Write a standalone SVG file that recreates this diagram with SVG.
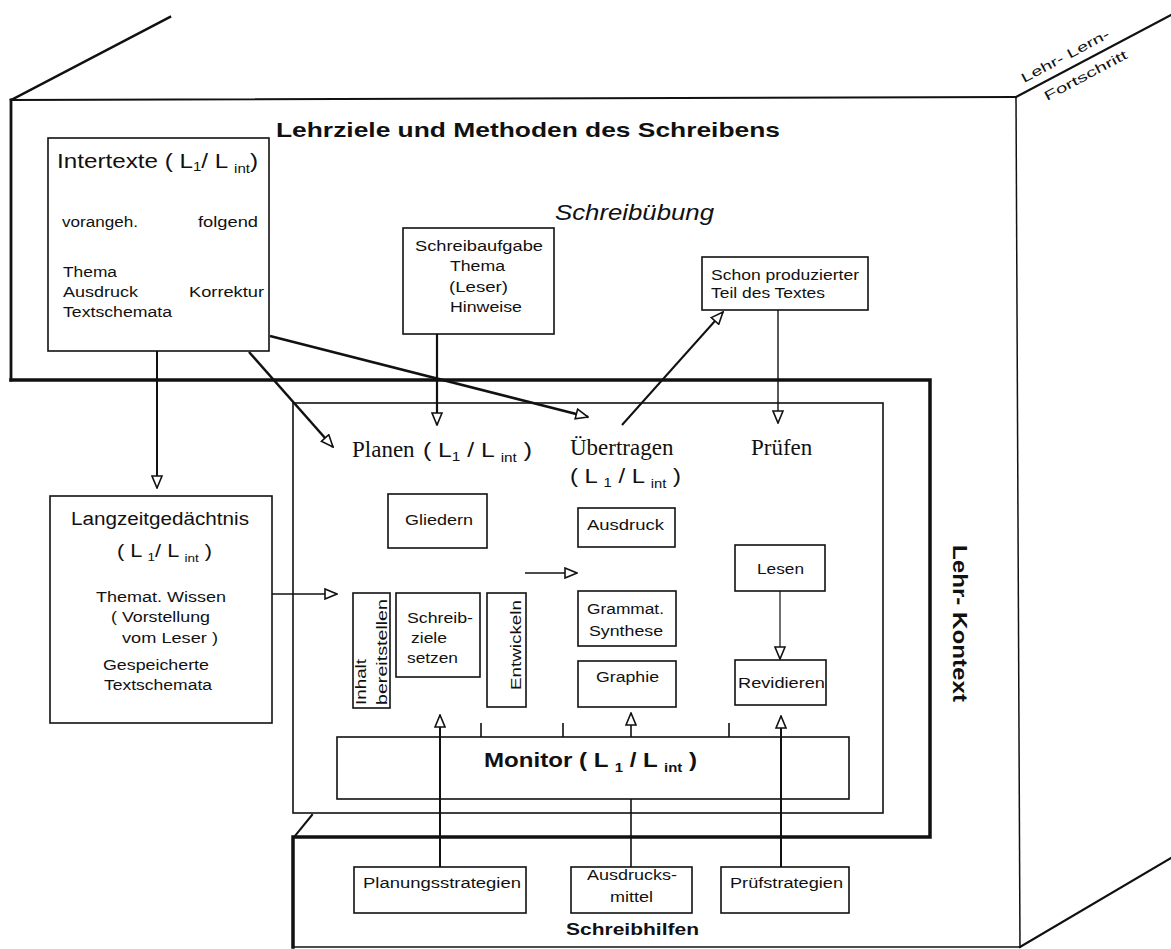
<svg xmlns="http://www.w3.org/2000/svg" width="1171" height="949" viewBox="0 0 1171 949">
<style>
text{font-family:"Liberation Sans",Arial,sans-serif;fill:#111}
.b{font-weight:bold}
.sf{font-family:"Liberation Serif","Times New Roman",serif}
.t14{font-size:14px}
.box{fill:none;stroke:#111;stroke-width:1.6}
.fr{fill:none;stroke:#111;stroke-linecap:square}
.c{fill:none;stroke:#111}
.sub{font-size:0.62em}
</style>
<defs>
<marker id="ah" markerUnits="userSpaceOnUse" viewBox="-1 -1 14 12" markerWidth="14" markerHeight="12" refX="12" refY="5" orient="auto">
<path d="M0,0 L12,5 L0,10 Z" fill="#fff" stroke="#111" stroke-width="1.6"/>
</marker>
</defs>
<rect width="1171" height="949" fill="#fff"/>

<g id="frame">
<path class="fr" stroke-width="2.5" d="M11,100 L170,17"/>
<path class="fr" stroke-width="1.8" d="M11,100 L1016,97"/>
<path class="fr" stroke-width="2.8" d="M11,100 V380"/>
<path class="fr" stroke-width="3.5" d="M11,380 H930 V837 H293 V947"/>
<path class="fr" stroke-width="1.5" d="M1016,97 L1020,947"/>
<path class="fr" stroke-width="2.2" d="M1016,97 L1171,15"/>
<path class="fr" stroke-width="2.2" d="M1020,947 L1171,858"/>
<path class="fr" stroke-width="1.3" stroke="#444" d="M293,947 H1020"/>
<path class="fr" stroke-width="2" d="M312,815 L294,837"/>
<rect x="293" y="403" width="590" height="410" class="box" stroke-width="1.5"/>
<text x="276" y="137" font-size="21" class="b" textLength="504" lengthAdjust="spacingAndGlyphs">Lehrziele und Methoden des Schreibens</text>
<text x="555" y="220" font-size="22" font-style="italic" textLength="159" lengthAdjust="spacingAndGlyphs">Schreibübung</text>
<text transform="translate(1024,83) rotate(-28)" font-size="13" textLength="98" lengthAdjust="spacingAndGlyphs">Lehr- Lern-</text>
<text transform="translate(1047,101) rotate(-28)" font-size="13" textLength="92" lengthAdjust="spacingAndGlyphs">Fortschritt</text>
<text transform="translate(953,545) rotate(90)" font-size="20" class="b" textLength="157" lengthAdjust="spacingAndGlyphs">Lehr- Kontext</text>
<text x="566" y="935" font-size="16" class="b" textLength="133" lengthAdjust="spacingAndGlyphs">Schreibhilfen</text>
</g>

<g id="intertexte">
<rect x="48" y="138" width="221" height="213" class="box"/>
<text x="57" y="168" font-size="20" textLength="201" lengthAdjust="spacingAndGlyphs">Intertexte ( L<tspan class="sub" dy="3">1</tspan><tspan dy="-3">/ L </tspan><tspan class="sub" dy="5">int</tspan><tspan dy="-5">)</tspan></text>
<text x="62" y="227" class="t14" textLength="76" lengthAdjust="spacingAndGlyphs">vorangeh.</text>
<text x="198" y="227" class="t14" textLength="60" lengthAdjust="spacingAndGlyphs">folgend</text>
<text x="63" y="277" class="t14" textLength="54" lengthAdjust="spacingAndGlyphs">Thema</text>
<text x="63" y="297" class="t14" textLength="75" lengthAdjust="spacingAndGlyphs">Ausdruck</text>
<text x="189" y="297" class="t14" textLength="75" lengthAdjust="spacingAndGlyphs">Korrektur</text>
<text x="63" y="317" class="t14" textLength="109" lengthAdjust="spacingAndGlyphs">Textschemata</text>
</g>

<g id="schreibaufgabe">
<rect x="403" y="228" width="151" height="106" class="box"/>
<text x="415" y="251" class="t14" textLength="128" lengthAdjust="spacingAndGlyphs">Schreibaufgabe</text>
<text x="450" y="271" class="t14" textLength="55" lengthAdjust="spacingAndGlyphs">Thema</text>
<text x="449" y="292" class="t14" textLength="59" lengthAdjust="spacingAndGlyphs">(Leser)</text>
<text x="450" y="312" class="t14" textLength="72" lengthAdjust="spacingAndGlyphs">Hinweise</text>
</g>

<g id="schon">
<rect x="702" y="257" width="166" height="53" class="box"/>
<text x="711" y="280" class="t14" textLength="148" lengthAdjust="spacingAndGlyphs">Schon produzierter</text>
<text x="711" y="298" class="t14" textLength="114" lengthAdjust="spacingAndGlyphs">Teil des Textes</text>
</g>

<g id="langzeit">
<rect x="50" y="496" width="222" height="227" class="box"/>
<text x="71" y="525" font-size="18" textLength="178" lengthAdjust="spacingAndGlyphs">Langzeitgedächtnis</text>
<text x="117" y="557" font-size="18" textLength="95" lengthAdjust="spacingAndGlyphs">( L <tspan class="sub" dy="4">1</tspan><tspan dy="-4">/ L </tspan><tspan class="sub" dy="5">int</tspan><tspan dy="-5"> )</tspan></text>
<text x="96" y="602" class="t14" textLength="130" lengthAdjust="spacingAndGlyphs">Themat. Wissen</text>
<text x="111" y="622" class="t14" textLength="99" lengthAdjust="spacingAndGlyphs">( Vorstellung</text>
<text x="122" y="643" class="t14" textLength="96" lengthAdjust="spacingAndGlyphs">vom Leser )</text>
<text x="103" y="670" class="t14" textLength="106" lengthAdjust="spacingAndGlyphs">Gespeicherte</text>
<text x="104" y="690" class="t14" textLength="108" lengthAdjust="spacingAndGlyphs">Textschemata</text>
</g>

<g id="planen">
<text x="352" y="457" font-size="23" class="sf">Planen</text>
<text x="423" y="457" font-size="20" textLength="109" lengthAdjust="spacingAndGlyphs">( L<tspan class="sub" dy="4">1</tspan><tspan dy="-4"> / L </tspan><tspan class="sub" dy="5">int</tspan><tspan dy="-5"> )</tspan></text>
</g>

<g id="uebertragen">
<text x="570" y="455" font-size="23" class="sf">Übertragen</text>
<text x="570" y="483" font-size="20" textLength="111" lengthAdjust="spacingAndGlyphs">( L <tspan class="sub" dy="4">1</tspan><tspan dy="-4"> / L </tspan><tspan class="sub" dy="5">int</tspan><tspan dy="-5"> )</tspan></text>
</g>

<g id="pruefen">
<text x="751" y="455" font-size="23" class="sf">Prüfen</text>
</g>

<g id="gliedern">
<rect x="388" y="494" width="99" height="54" class="box"/>
<text x="405" y="525" class="t14" textLength="68" lengthAdjust="spacingAndGlyphs">Gliedern</text>
</g>

<g id="inhalt">
<rect x="353" y="593" width="37" height="115" class="box"/>
<text transform="translate(366,705) rotate(-90)" class="t14" textLength="46" lengthAdjust="spacingAndGlyphs">Inhalt</text>
<text transform="translate(387,705) rotate(-90)" class="t14" textLength="106" lengthAdjust="spacingAndGlyphs">bereitstellen</text>
</g>

<g id="schreibziele">
<rect x="396" y="593" width="84" height="84" class="box"/>
<text x="407" y="623" class="t14" textLength="66" lengthAdjust="spacingAndGlyphs">Schreib-</text>
<text x="411" y="643" class="t14" textLength="36" lengthAdjust="spacingAndGlyphs">ziele</text>
<text x="407" y="663" class="t14" textLength="51" lengthAdjust="spacingAndGlyphs">setzen</text>
</g>

<g id="entwickeln">
<rect x="487" y="593" width="39" height="114" class="box"/>
<text transform="translate(521,690) rotate(-90)" class="t14" textLength="90" lengthAdjust="spacingAndGlyphs">Entwickeln</text>
</g>

<g id="ausdruck">
<rect x="578" y="508" width="97" height="39" class="box"/>
<text x="587" y="530" class="t14" textLength="77" lengthAdjust="spacingAndGlyphs">Ausdruck</text>
</g>

<g id="grammat">
<rect x="578" y="591" width="98" height="55" class="box"/>
<text x="587" y="614" class="t14" textLength="77" lengthAdjust="spacingAndGlyphs">Grammat.</text>
<text x="589" y="636" class="t14" textLength="74" lengthAdjust="spacingAndGlyphs">Synthese</text>
</g>

<g id="graphie">
<rect x="578" y="661" width="98" height="46" class="box"/>
<text x="596" y="682" class="t14" textLength="63" lengthAdjust="spacingAndGlyphs">Graphie</text>
</g>

<g id="lesen">
<rect x="735" y="545" width="90" height="46" class="box"/>
<text x="757" y="574" class="t14" textLength="47" lengthAdjust="spacingAndGlyphs">Lesen</text>
</g>

<g id="revidieren">
<rect x="735" y="660" width="91" height="45" class="box"/>
<text x="738" y="688" class="t14" textLength="87" lengthAdjust="spacingAndGlyphs">Revidieren</text>
</g>

<g id="monitor">
<rect x="337" y="737" width="512" height="62" class="box"/>
<text x="484" y="767" font-size="20" class="b" textLength="213" lengthAdjust="spacingAndGlyphs">Monitor ( L <tspan class="sub" dy="5">1</tspan><tspan dy="-5"> / L </tspan><tspan class="sub" dy="5">int</tspan><tspan dy="-5"> )</tspan></text>
</g>

<g id="planungsstrategien">
<rect x="354" y="867" width="172" height="46" class="box"/>
<text x="363" y="888" class="t14" textLength="158" lengthAdjust="spacingAndGlyphs">Planungsstrategien</text>
</g>

<g id="ausdrucksmittel">
<rect x="571" y="867" width="121" height="46" class="box"/>
<text x="587" y="880" class="t14" textLength="90" lengthAdjust="spacingAndGlyphs">Ausdrucks-</text>
<text x="610" y="902" class="t14" textLength="43" lengthAdjust="spacingAndGlyphs">mittel</text>
</g>

<g id="pruefstrategien">
<rect x="721" y="867" width="128" height="46" class="box"/>
<text x="730" y="888" class="t14" textLength="113" lengthAdjust="spacingAndGlyphs">Prüfstrategien</text>
</g>

<g id="connectors">
<path class="c" stroke-width="2" d="M157,351 V488" marker-end="url(#ah)"/>
<path class="c" stroke-width="2.5" d="M249,352 L333,447" marker-end="url(#ah)"/>
<path class="c" stroke-width="2.5" d="M270,336 L588,417" marker-end="url(#ah)"/>
<path class="c" stroke-width="2.2" d="M437,334 V425" marker-end="url(#ah)"/>
<path class="c" stroke-width="2" d="M622,425 L723,312" marker-end="url(#ah)"/>
<path class="c" stroke-width="1.4" d="M778,310 V423" marker-end="url(#ah)"/>
<path class="c" stroke-width="1.6" d="M272,594 H337" marker-end="url(#ah)"/>
<path class="c" stroke-width="1.5" d="M525,573 H577" marker-end="url(#ah)"/>
<path class="c" stroke-width="1.2" d="M780,591 V659" marker-end="url(#ah)"/>
<path class="c" stroke-width="2" d="M440,867 V715" marker-end="url(#ah)"/>
<path class="c" stroke-width="1.6" d="M631,737 V713" marker-end="url(#ah)"/>
<path class="c" stroke-width="1.6" d="M631,867 V799"/>
<path class="c" stroke-width="2" d="M781,867 V716" marker-end="url(#ah)"/>
<path class="c" stroke-width="1.6" d="M481,723 V737 M563,723 V737 M729,723 V737"/>
</g>
</svg>
